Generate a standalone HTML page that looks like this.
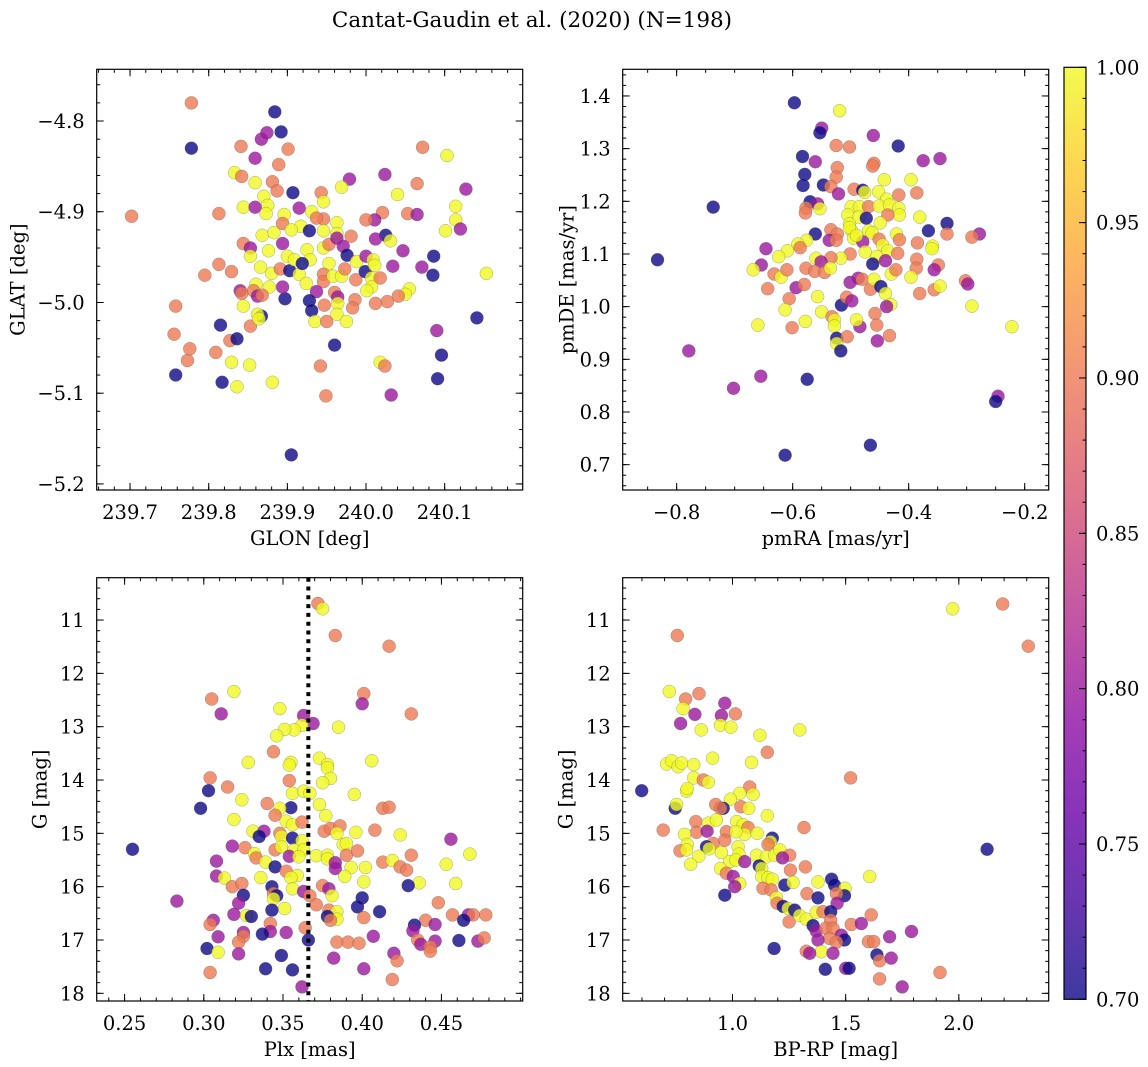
<!DOCTYPE html>
<html><head><meta charset="utf-8"><title>Cantat-Gaudin et al. (2020)</title>
<style>
html,body{margin:0;padding:0;background:#fff;}
svg{display:block;font-family:"DejaVu Serif","Liberation Serif",serif;}
</style></head>
<body>
<svg id="fig" width="1148" height="1067" viewBox="0 0 1148 1067" xmlns="http://www.w3.org/2000/svg">
<defs>
<linearGradient id="cbgrad" x1="0" y1="1" x2="0" y2="0">
<stop offset="0" stop-color="#0d0887"/><stop offset="0.1" stop-color="#41049d"/><stop offset="0.2" stop-color="#6a00a8"/><stop offset="0.3" stop-color="#8f0da4"/><stop offset="0.4" stop-color="#b12a90"/><stop offset="0.5" stop-color="#cc4778"/><stop offset="0.6" stop-color="#e16462"/><stop offset="0.7" stop-color="#f2844b"/><stop offset="0.8" stop-color="#fca636"/><stop offset="0.9" stop-color="#fcce25"/><stop offset="1" stop-color="#f0f921"/>
</linearGradient>
</defs>
<text x="532" y="27" font-size="21.5" text-anchor="middle">Cantat-Gaudin et al. (2020) (N=198)</text>
<g id="panels"></g>
<g>
<rect x="1064" y="67.3" width="22" height="932" fill="url(#cbgrad)" opacity="0.8"/>
<rect x="1064" y="67.3" width="22" height="932" fill="none" stroke="#000" stroke-width="1.2"/>
<g id="cbticks"></g>
</g>
</svg>
<script>
// Panel 1: GLON / GLAT
const glon=[239.778,239.884,239.892,239.778,239.874,239.867,239.841,239.901,239.859,239.889,239.833,239.842,239.859,239.881,239.887,239.907,239.870,239.875,239.844,239.859,239.873,239.813,239.702,239.979,239.969,239.943,239.946,239.915,239.931,240.024,240.072,240.103,240.065,240.040,240.127,240.114,240.114,240.120,240.101,240.021,240.053,240.065,240.011,240.000,240.086,240.085,240.153,240.071,240.047,240.034,240.025,240.031,240.012,240.055,240.050,240.041,240.027,240.012,240.141,240.090,240.096,240.091,240.018,240.024,240.032,239.949,239.942,239.960,239.905,239.881,239.836,239.817,239.829,239.852,239.758,239.773,239.776,239.756,239.809,239.758,239.815,239.827,239.836,239.853,239.795,239.813,239.829,239.844,239.853,239.853,239.866,239.868,239.876,239.883,239.880,239.891,239.896,239.894,239.894,239.900,239.903,239.915,239.909,239.917,239.928,239.925,239.929,239.919,239.924,239.946,239.946,239.946,239.953,239.963,239.963,239.963,239.981,239.971,239.976,239.953,239.946,239.946,239.958,239.969,239.973,239.988,239.987,239.999,240.000,240.009,240.011,240.007,240.018,240.007,240.001,239.937,239.960,239.964,239.964,239.986,239.983,239.947,239.963,239.928,239.931,239.935,239.950,239.975,239.897,239.894,239.877,239.860,239.857,239.862,239.868,239.840,239.842,239.844,239.867,239.862,239.864,239.937,239.905];
const glat=[-4.780,-4.790,-4.812,-4.830,-4.813,-4.820,-4.828,-4.831,-4.841,-4.848,-4.857,-4.861,-4.868,-4.867,-4.877,-4.879,-4.883,-4.893,-4.895,-4.895,-4.902,-4.902,-4.905,-4.864,-4.873,-4.879,-4.889,-4.896,-4.900,-4.859,-4.829,-4.838,-4.869,-4.881,-4.875,-4.894,-4.909,-4.919,-4.921,-4.901,-4.902,-4.903,-4.909,-4.909,-4.949,-4.970,-4.968,-4.961,-4.943,-4.960,-4.926,-4.932,-4.930,-4.985,-4.991,-4.993,-4.999,-5.001,-5.017,-5.031,-5.058,-5.084,-5.066,-5.070,-5.102,-5.103,-5.070,-5.047,-5.168,-5.088,-5.093,-5.088,-5.066,-5.069,-5.080,-5.064,-5.051,-5.035,-5.055,-5.004,-5.025,-5.042,-5.040,-5.026,-4.970,-4.958,-4.966,-4.935,-4.940,-4.949,-4.961,-4.926,-4.943,-4.923,-4.968,-4.963,-4.903,-4.913,-4.935,-4.949,-4.965,-4.969,-4.953,-4.916,-4.921,-4.942,-4.953,-4.957,-4.979,-4.908,-4.921,-4.940,-4.936,-4.912,-4.924,-4.929,-4.927,-4.938,-4.948,-4.957,-4.969,-4.977,-4.971,-4.971,-4.963,-4.955,-4.975,-4.966,-4.949,-4.953,-4.959,-4.973,-4.973,-4.983,-4.987,-4.988,-4.989,-4.994,-5.001,-4.997,-5.006,-5.003,-5.013,-4.998,-5.009,-5.021,-5.021,-5.021,-4.996,-4.983,-4.983,-4.980,-4.987,-4.993,-4.992,-4.987,-4.990,-5.004,-5.015,-5.013,-5.018,-4.907,-4.920];
const prob1=[0.9,0.7,0.7,0.7,0.8,0.8,0.9,0.9,0.8,0.9,1,0.9,1,0.9,0.9,0.7,1,1,1,0.8,1,0.9,0.9,0.8,1,0.9,1,0.8,1,0.8,0.9,1,0.9,1,0.8,1,1,0.8,1,0.9,0.9,0.8,0.8,0.9,0.7,0.7,1,0.8,0.8,0.8,0.7,1,0.8,1,1,0.9,0.9,0.9,0.7,0.8,0.7,0.7,1,0.9,0.8,0.9,0.9,0.7,0.7,1,1,0.7,1,1,0.7,0.9,0.9,0.9,0.9,0.9,0.7,0.9,0.7,0.9,0.9,0.9,0.9,0.9,0.8,1,1,1,1,1,1,0.9,1,0.9,0.8,1,0.7,1,1,1,0.7,1,1,0.7,1,0.9,1,1,0.9,1,1,0.8,0.9,0.8,0.7,1,0.9,0.9,1,1,0.9,1,0.9,0.7,0.8,1,1,1,0.9,1,1,0.8,0.9,0.8,1,0.9,0.9,0.9,1,0.7,0.7,1,0.9,1,0.7,0.8,1,1,0.9,0.8,0.9,0.8,0.9,1,0.7,1,1,0.9,1];

// Panel 2: pmRA / pmDE
const pmra=[-0.597,-0.519,-0.550,-0.553,-0.461,-0.418,-0.525,-0.502,-0.583,-0.561,-0.375,-0.346,-0.460,-0.462,-0.523,-0.579,-0.525,-0.582,-0.547,-0.534,-0.442,-0.396,-0.521,-0.494,-0.479,-0.476,-0.452,-0.417,-0.386,-0.438,-0.570,-0.557,-0.577,-0.578,-0.553,-0.737,-0.499,-0.485,-0.469,-0.451,-0.433,-0.417,-0.505,-0.486,-0.473,-0.416,-0.436,-0.381,-0.334,-0.366,-0.334,-0.278,-0.291,-0.449,-0.502,-0.498,-0.469,-0.534,-0.561,-0.523,-0.537,-0.525,-0.495,-0.479,-0.463,-0.451,-0.421,-0.416,-0.385,-0.445,-0.436,-0.359,-0.360,-0.419,-0.386,-0.349,-0.356,-0.387,-0.475,-0.455,-0.440,-0.462,-0.501,-0.517,-0.534,-0.560,-0.551,-0.576,-0.591,-0.587,-0.609,-0.624,-0.646,-0.654,-0.668,-0.632,-0.620,-0.610,-0.577,-0.562,-0.545,-0.535,-0.643,-0.594,-0.580,-0.606,-0.557,-0.613,-0.550,-0.578,-0.601,-0.660,-0.516,-0.507,-0.498,-0.501,-0.487,-0.480,-0.466,-0.460,-0.448,-0.440,-0.431,-0.438,-0.430,-0.422,-0.396,-0.381,-0.356,-0.346,-0.302,-0.298,-0.291,-0.222,-0.458,-0.455,-0.433,-0.454,-0.484,-0.490,-0.532,-0.528,-0.528,-0.524,-0.524,-0.517,-0.506,-0.833,-0.779,-0.702,-0.655,-0.575,-0.246,-0.250,-0.466,-0.613,-0.502,-0.490];
const pmde=[1.387,1.372,1.339,1.330,1.325,1.305,1.306,1.303,1.285,1.275,1.277,1.281,1.272,1.267,1.264,1.251,1.246,1.230,1.231,1.228,1.241,1.241,1.214,1.223,1.221,1.217,1.218,1.212,1.216,1.204,1.199,1.195,1.187,1.178,1.186,1.189,1.190,1.190,1.190,1.191,1.193,1.187,1.174,1.170,1.168,1.174,1.174,1.170,1.158,1.144,1.138,1.138,1.132,1.159,1.157,1.144,1.144,1.146,1.138,1.138,1.126,1.126,1.130,1.123,1.140,1.128,1.138,1.127,1.121,1.117,1.106,1.115,1.110,1.101,1.090,1.079,1.070,1.073,1.104,1.095,1.087,1.081,1.100,1.092,1.093,1.092,1.085,1.126,1.119,1.112,1.106,1.095,1.110,1.079,1.070,1.062,1.056,1.070,1.073,1.067,1.065,1.073,1.034,1.036,1.042,1.015,1.019,0.994,0.990,0.972,0.960,0.965,1.003,1.018,1.011,1.046,1.054,1.052,1.033,1.052,1.038,1.025,1.004,1.000,1.062,1.070,1.056,1.025,1.032,1.039,1.049,1.043,1.001,0.962,0.987,0.965,0.945,0.935,0.962,0.975,0.981,0.975,0.963,0.940,0.930,0.916,0.943,1.089,0.916,0.845,0.868,0.862,0.830,0.820,0.737,0.718,1.150,1.135];
const prob2=[0.7,1,0.8,0.7,0.8,0.7,0.9,0.9,0.7,0.8,0.8,0.8,0.9,0.9,0.9,0.7,0.9,0.7,0.7,0.9,1,1,0.8,0.9,0.7,1,1,0.9,0.9,1,0.7,0.8,0.9,0.9,1,0.7,1,1,0.9,1,1,1,1,1,0.7,1,0.9,1,0.7,0.7,0.9,0.8,0.9,1,1,1,1,0.9,0.7,0.9,0.8,0.9,1,0.8,1,0.9,1,0.9,0.9,1,1,1,1,0.9,0.9,0.9,0.8,0.9,1,1,0.8,0.7,0.9,1,0.9,1,0.8,1,1,0.9,1,1,0.8,0.8,1,0.9,1,0.9,0.9,0.9,0.9,1,0.9,0.8,0.9,0.9,1,1,1,1,0.9,1,0.7,0.9,0.8,0.8,0.8,0.9,0.9,1,0.7,1,1,0.8,1,0.9,1,0.9,0.9,1,0.9,0.8,1,1,0.9,0.9,0.9,0.8,0.8,1,0.9,1,1,0.7,1,0.7,0.9,0.7,0.8,0.8,0.8,0.7,0.8,0.7,0.7,0.7,1,1];

// Panel 3: Plx / G
const plx=[0.372,0.375,0.383,0.417,0.319,0.305,0.401,0.400,0.311,0.431,0.348,0.363,0.369,0.362,0.357,0.351,0.346,0.385,0.344,0.328,0.355,0.354,0.373,0.378,0.378,0.380,0.375,0.406,0.304,0.315,0.303,0.354,0.356,0.363,0.367,0.395,0.324,0.298,0.340,0.355,0.348,0.373,0.377,0.413,0.417,0.319,0.345,0.352,0.356,0.362,0.376,0.380,0.386,0.384,0.396,0.408,0.424,0.331,0.338,0.335,0.348,0.349,0.356,0.362,0.255,0.318,0.326,0.332,0.333,0.345,0.349,0.357,0.363,0.354,0.360,0.371,0.378,0.378,0.388,0.390,0.390,0.397,0.456,0.468,0.431,0.308,0.339,0.345,0.352,0.359,0.383,0.383,0.393,0.402,0.413,0.419,0.424,0.428,0.453,0.308,0.313,0.336,0.355,0.389,0.401,0.436,0.459,0.429,0.318,0.324,0.325,0.343,0.356,0.363,0.344,0.346,0.344,0.375,0.379,0.381,0.367,0.371,0.283,0.322,0.351,0.343,0.400,0.397,0.411,0.448,0.319,0.327,0.330,0.379,0.384,0.384,0.378,0.380,0.401,0.457,0.467,0.470,0.478,0.464,0.440,0.446,0.433,0.306,0.304,0.342,0.342,0.337,0.352,0.364,0.366,0.325,0.325,0.309,0.322,0.302,0.309,0.322,0.349,0.384,0.391,0.398,0.407,0.432,0.435,0.437,0.446,0.443,0.443,0.461,0.473,0.477,0.420,0.422,0.382,0.339,0.356,0.401,0.419,0.304,0.362];
const g3=[10.69,10.79,11.29,11.49,12.34,12.48,12.38,12.57,12.76,12.76,12.66,12.79,12.94,12.97,13.06,13.05,13.17,13.01,13.47,13.67,13.67,13.72,13.59,13.71,13.77,13.97,14.05,13.64,13.96,14.13,14.20,14.01,14.25,14.21,14.25,14.27,14.37,14.53,14.44,14.52,14.53,14.46,14.67,14.53,14.51,14.74,14.66,14.77,14.84,14.79,14.96,14.91,14.86,15.00,14.98,14.94,15.03,14.96,14.96,15.06,15.00,15.06,15.09,15.14,15.30,15.24,15.27,15.38,15.46,15.31,15.25,15.31,15.31,15.43,15.44,15.42,15.41,15.48,15.21,15.19,15.41,15.33,15.11,15.39,15.41,15.52,15.54,15.63,15.71,15.79,15.55,15.66,15.64,15.64,15.54,15.51,15.63,15.69,15.58,15.80,15.84,15.83,15.83,15.81,15.91,15.93,15.94,15.98,16.00,15.94,16.16,16.00,16.04,16.09,16.13,16.17,16.23,15.98,16.04,16.17,16.17,16.34,16.27,16.31,16.41,16.44,16.21,16.38,16.47,16.30,16.52,16.54,16.56,16.44,16.47,16.61,16.56,16.63,16.58,16.53,16.53,16.53,16.53,16.63,16.63,16.71,16.72,16.63,16.71,16.69,16.84,16.89,16.86,16.77,17.00,16.86,16.93,16.94,17.04,17.16,17.23,17.26,17.29,17.04,17.04,17.06,16.93,16.83,17.00,17.08,17.02,17.13,17.21,17.01,17.02,16.96,17.25,17.39,17.34,17.54,17.56,17.54,17.74,17.61,17.88];
const prob3=[0.9,1,0.9,0.9,1,0.9,0.9,0.8,0.8,0.9,1,0.8,0.8,1,1,1,1,1,0.9,1,1,1,1,1,1,1,1,1,0.9,0.9,0.7,0.9,1,1,1,1,1,0.7,0.9,0.7,1,1,1,0.9,0.9,1,0.9,1,1,0.9,0.9,0.9,0.9,1,1,0.9,1,1,0.8,0.7,0.9,1,0.7,1,0.7,0.8,0.9,1,0.9,0.9,1,1,1,0.8,1,1,1,1,1,1,0.9,0.9,0.8,1,0.9,0.8,1,0.7,0.9,1,0.8,0.8,1,1,0.9,1,0.9,0.9,1,0.8,1,1,1,1,1,1,1,0.7,0.9,0.9,0.7,0.7,1,0.8,0.9,0.7,1,0.9,0.8,1,0.9,0.9,0.8,0.8,1,0.7,0.7,0.7,0.7,0.9,0.8,1,0.7,0.9,1,1,0.7,0.9,0.9,0.9,0.8,0.9,0.9,0.7,0.9,0.8,0.7,0.8,0.9,0.9,0.8,0.7,0.8,0.9,0.7,0.8,0.9,0.8,0.9,0.7,1,0.8,0.7,0.9,0.9,0.9,0.8,0.8,0.9,0.8,0.8,0.9,0.9,0.7,0.8,0.9,0.8,0.9,0.8,0.7,0.7,0.8,0.9,0.9,0.8];
const plxRef=[0.366];

// Panel 4: BP-RP / G
const bprp=[1.973,2.194,2.307,0.756,0.721,0.793,0.852,0.782,0.834,0.771,0.966,0.951,1.013,0.947,0.993,0.862,1.121,1.297,1.154,0.709,0.731,0.760,0.775,0.829,0.912,1.084,1.522,0.829,0.871,0.893,0.599,0.797,0.800,0.747,0.753,1.076,1.032,1.091,0.991,0.926,0.959,0.947,1.037,1.072,1.154,1.316,0.694,0.838,0.893,0.929,0.841,0.888,0.788,0.973,1.018,1.047,1.069,1.054,1.109,1.015,1.176,1.168,1.157,0.966,0.915,0.885,0.800,0.768,0.797,0.851,0.815,0.897,0.951,1.025,1.029,0.988,1.015,1.054,1.106,1.150,1.187,1.209,1.253,1.221,1.322,1.256,1.118,1.129,0.947,0.973,1.003,1.032,1.010,0.966,1.129,1.157,1.176,1.135,1.171,1.231,1.268,1.194,1.197,1.224,1.246,1.275,1.250,1.297,1.326,1.356,1.329,1.378,1.378,1.438,1.451,1.497,1.495,1.459,1.462,1.606,1.370,1.400,1.434,1.434,1.525,1.569,1.613,1.370,1.412,1.444,1.481,1.495,1.429,1.378,1.459,1.393,1.326,1.341,1.444,1.184,1.410,1.500,1.515,1.601,1.624,1.694,1.791,1.638,1.650,1.701,1.650,1.750,1.917,2.125];
const g4=[10.79,10.70,11.49,11.29,12.34,12.48,12.38,12.66,12.77,12.94,12.56,12.79,12.76,12.97,13.01,13.06,13.16,13.06,13.48,13.70,13.64,13.75,13.68,13.71,13.59,13.67,13.96,13.96,14.00,14.04,14.20,14.21,14.16,14.53,14.46,14.13,14.25,14.27,14.36,14.46,14.53,14.53,14.50,14.53,14.67,14.89,14.94,14.78,14.81,14.75,14.98,14.96,15.02,14.97,14.78,14.84,14.89,15.02,15.00,14.97,15.09,15.16,15.21,15.13,15.19,15.25,15.21,15.33,15.31,15.43,15.58,15.29,15.36,15.25,15.39,15.53,15.50,15.53,15.41,15.44,15.41,15.31,15.41,15.46,15.63,15.69,15.61,15.66,15.66,15.75,15.81,15.94,16.00,16.16,15.81,15.83,15.86,16.03,16.06,15.97,15.92,16.21,16.31,16.37,16.41,16.44,16.66,16.54,16.61,16.73,16.13,16.21,15.91,15.86,15.97,16.03,16.17,16.13,16.31,15.81,16.48,16.47,16.47,16.63,16.71,16.69,16.53,16.83,16.78,16.78,16.91,17.00,16.97,17.00,17.04,17.22,17.21,17.25,17.25,17.16,17.55,17.53,17.53,17.03,17.03,16.94,16.84,17.28,17.39,17.34,17.73,17.88,17.61,15.30];
const prob4=[1,0.9,0.9,0.9,1,0.9,0.9,1,0.8,0.8,0.8,0.8,0.9,1,1,1,1,1,0.9,1,1,1,1,1,1,1,0.9,1,0.9,1,0.7,1,1,0.7,1,0.9,1,1,1,0.9,0.7,0.9,0.9,1,1,0.9,0.9,0.9,1,1,0.9,0.8,1,0.9,1,1,0.9,1,1,1,0.7,1,0.9,0.9,0.9,0.7,1,0.9,1,1,1,1,1,1,1,1,1,0.8,1,1,1,1,0.9,0.8,0.9,0.9,0.7,1,1,0.9,0.8,1,0.8,0.7,1,1,1,0.9,0.9,0.7,1,1,0.9,0.7,1,0.7,0.9,1,1,0.7,0.9,0.7,1,0.7,0.7,1,0.7,0.9,0.8,1,1,0.9,0.7,0.9,0.9,0.8,0.9,0.8,0.9,0.9,0.8,0.7,0.9,0.8,0.9,1,0.9,0.8,0.8,0.7,0.7,0.8,0.7,0.9,0.9,0.8,0.8,0.7,0.9,0.8,0.9,0.8,0.9,0.7];

// colorbar
const cbTicks=[0.70,0.75,0.80,0.85,0.90,0.95,1.00];

const SVGNS="http://www.w3.org/2000/svg";
const FS=19.5;
const stops=[[0,13,8,135],[0.1,65,4,157],[0.2,106,0,168],[0.3,143,13,164],[0.4,177,42,144],[0.5,204,71,120],[0.6,225,100,98],[0.7,242,132,75],[0.8,252,166,54],[0.9,252,206,37],[1,240,249,33]];
function plasma(v){
  const t=Math.max(0,Math.min(1,(v-0.7)/0.3));
  for(let i=1;i<stops.length;i++){
    if(t<=stops[i][0]){
      const a=stops[i-1],b=stops[i],f=(t-a[0])/(b[0]-a[0]);
      return `rgb(${Math.round(a[1]+f*(b[1]-a[1]))},${Math.round(a[2]+f*(b[2]-a[2]))},${Math.round(a[3]+f*(b[3]-a[3]))})`;
    }
  }
  return 'rgb(240,249,33)';
}
function mk(tag,attrs,parent){
  const e=document.createElementNS(SVGNS,tag);
  for(const k in attrs)e.setAttribute(k,attrs[k]);
  parent.appendChild(e);return e;
}
const root=document.getElementById('panels');
const fmtMinus=s=>s.replace('-','\u2212');

const panels=[
 {name:'sky-position',box:[96.7,69.3,522.7,490],xr:[239.6576,240.1992],yr:[-4.743,-5.2067],
  xs:glon,ys:glat,cs:prob1,xmaj:[239.7,239.8,239.9,240.0,240.1],xmin:0.02,xdec:1,ymaj:[-4.8,-4.9,-5.0,-5.1,-5.2],ymin:0.02,ydec:1,
  xl:'GLON [deg]',yl:'GLAT [deg]',ylx:18},
 {name:'proper-motion',box:[622.7,69.3,1048.7,490],xr:[-0.893,-0.1586],yr:[1.4506,0.6519],
  xs:pmra,ys:pmde,cs:prob2,xmaj:[-0.8,-0.6,-0.4,-0.2],xmin:0.05,xdec:1,ymaj:[0.7,0.8,0.9,1.0,1.1,1.2,1.3,1.4],ymin:0.02,ydec:1,
  xl:'pmRA [mas/yr]',yl:'pmDE [mas/yr]',ylx:567},
 {name:'parallax-magnitude',box:[96.7,577.7,522.7,1001],xr:[0.2324,0.5013],yr:[10.206,18.144],
  xs:plx,ys:g3,cs:prob3,xmaj:[0.25,0.30,0.35,0.40,0.45],xmin:0.01,xdec:2,ymaj:[11,12,13,14,15,16,17,18],ymin:0.2,ydec:0,
  xl:'Plx [mas]',yl:'G [mag]',ylx:40,vline:plxRef},
 {name:'color-magnitude',box:[622.7,577.7,1048.7,1001],xr:[0.515,2.397],yr:[10.206,18.144],
  xs:bprp,ys:g4,cs:prob4,xmaj:[1.0,1.5,2.0],xmin:0.1,xdec:1,ymaj:[11,12,13,14,15,16,17,18],ymin:0.2,ydec:0,
  xl:'BP-RP [mag]',yl:'G [mag]',ylx:566}
];

panels.forEach(p=>{
  const [x0,y0,x1,y1]=p.box;
  const sx=v=>x0+(v-p.xr[0])/(p.xr[1]-p.xr[0])*(x1-x0);
  const sy=v=>y0+(v-p.yr[0])/(p.yr[1]-p.yr[0])*(y1-y0);
  const g=mk('g',{},root);
  
  
  const pts=mk('g',{},g);
  
  
  for(let i=0;i<p.xs.length;i++){
    const c=mk('circle',{cx:sx(p.xs[i]).toFixed(1),cy:sy(p.ys[i]).toFixed(1),r:6.5,fill:plasma(p.cs[i]),'fill-opacity':0.8,stroke:'#555','stroke-opacity':0.5,'stroke-width':0.5},pts);
    
    
  }
  if(p.vline){
    const l=mk('line',{x1:sx(p.vline[0]),x2:sx(p.vline[0]),y1:y0,y2:y1,stroke:'#000','stroke-width':4,'stroke-dasharray':'4 4.8'},g);
    
    
  }
  const fr=mk('rect',{x:x0,y:y0,width:x1-x0,height:y1-y0,fill:'none',stroke:'#000','stroke-width':1.2},g);
  
  
  const tk=mk('g',{stroke:'#000','stroke-width':1},g);
  
  
  const xa=Math.min(p.xr[0],p.xr[1]),xb=Math.max(p.xr[0],p.xr[1]);
  for(let v=Math.ceil(xa/p.xmin)*p.xmin;v<=xb;v+=p.xmin){
    const X=sx(v);
    mk('line',{x1:X,x2:X,y1:y1,y2:y1-3.5},tk);mk('line',{x1:X,x2:X,y1:y0,y2:y0+3.5},tk);
  }
  const ya=Math.min(p.yr[0],p.yr[1]),yb=Math.max(p.yr[0],p.yr[1]);
  for(let v=Math.ceil(ya/p.ymin)*p.ymin;v<=yb;v+=p.ymin){
    const Y=sy(v);
    mk('line',{x1:x0,x2:x0+3.5,y1:Y,y2:Y},tk);mk('line',{x1:x1,x2:x1-3.5,y1:Y,y2:Y},tk);
  }
  p.xmaj.forEach(v=>{
    const X=sx(v);
    mk('line',{x1:X,x2:X,y1:y1,y2:y1-7},tk);mk('line',{x1:X,x2:X,y1:y0,y2:y0+7},tk);
    const t=mk('text',{x:X,y:y1+29,'font-size':FS,'text-anchor':'middle'},g);
    t.textContent=fmtMinus(v.toFixed(p.xdec));
    
    
  });
  p.ymaj.forEach(v=>{
    const Y=sy(v);
    mk('line',{x1:x0,x2:x0+7,y1:Y,y2:Y},tk);mk('line',{x1:x1,x2:x1-7,y1:Y,y2:Y},tk);
    const t=mk('text',{x:x0-12,y:Y+7,'font-size':FS,'text-anchor':'end'},g);
    t.textContent=fmtMinus(v.toFixed(p.ydec));
    
    
  });
  const xt=mk('text',{x:(x0+x1)/2,y:y1+55,'font-size':FS,'text-anchor':'middle'},g);
  xt.textContent=p.xl;
  
  
  const yc=(y0+y1)/2;
  const yt=mk('text',{x:p.ylx,y:yc,'font-size':FS,'text-anchor':'middle',transform:`rotate(-90 ${p.ylx} ${yc})`,'dominant-baseline':'central'},g);
  yt.textContent=p.yl;
  
  
});

const cbg=document.getElementById('cbticks');
const cbY=v=>999.3-(v-0.7)/0.3*932;
for(let k=0;k<=30;k++){
  const v=0.7+k*0.01,Y=cbY(v);
  mk('line',{x1:1086,x2:1082.5,y1:Y,y2:Y,stroke:'#000','stroke-width':1},cbg);
}
cbTicks.forEach(v=>{
  const Y=cbY(v);
  mk('line',{x1:1086,x2:1079,y1:Y,y2:Y,stroke:'#000','stroke-width':1},cbg);
  const t=mk('text',{x:1096,y:Y+7,'font-size':FS},cbg);
  t.textContent=v.toFixed(2);
  
  
});
</script>
</body></html>
